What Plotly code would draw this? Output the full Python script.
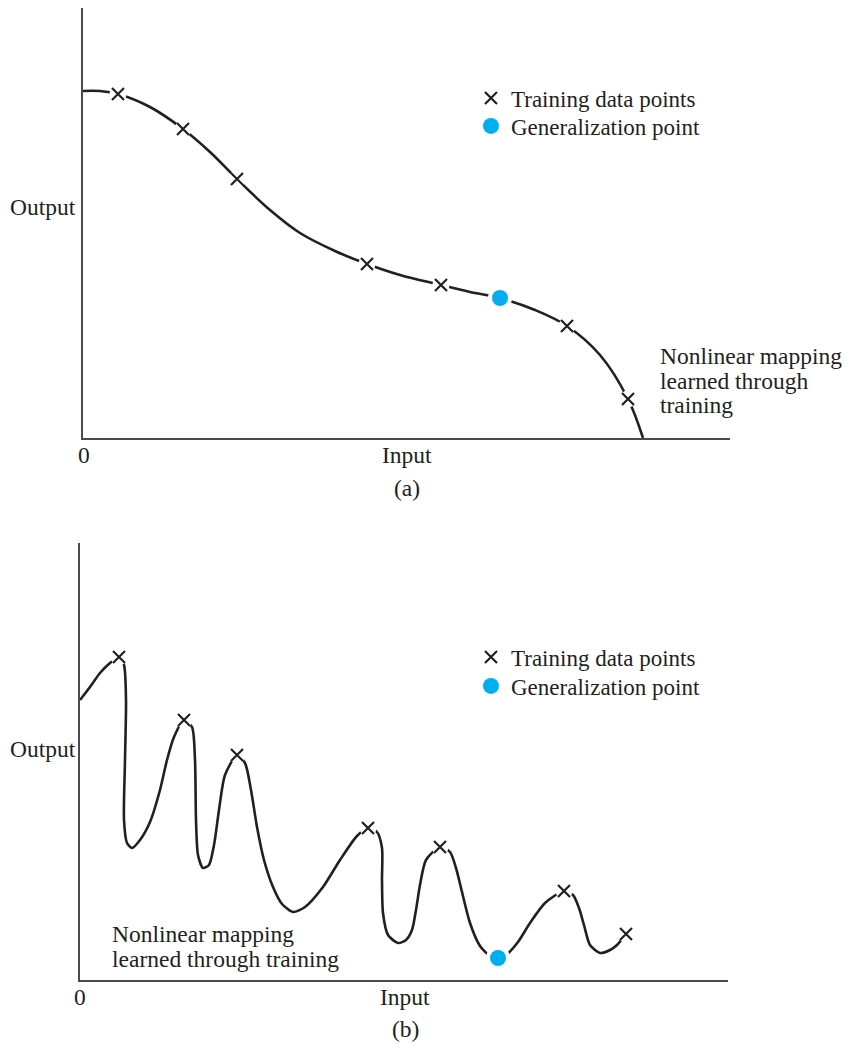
import plotly.graph_objects as go

# The page has an 8px body margin, so the figure is made 8px smaller and all
# layout positions are given in window pixels minus that margin.
WIN_W, WIN_H = 850, 1044
OFF = 8
W, H = WIN_W - OFF, WIN_H - OFF

# ---------------- Data ----------------
# Panel (a): smooth mapping
train_x_a = [35, 100, 154, 284, 358, 484, 545]
train_y_a = [344, 309, 259, 174, 153, 112, 39]
gen_x_a = [417]
gen_y_a = [140]
curve_x_a = [0, 17, 35, 67, 100, 127, 154, 187, 217, 252, 284, 317, 358, 387, 417, 452, 484, 517, 545, 560]
curve_y_a = [347, 347, 344, 331, 309, 286, 259, 228, 205, 187, 174, 163, 153, 146, 140, 128, 112, 83, 39, 0]

# Panel (b): overfitted mapping
train_x_b = [39, 104, 157, 288, 360, 484, 546]
train_y_b = [323, 260, 225, 152, 133, 89, 46]
gen_x_b = [418]
gen_y_b = [22]
curve_x_b = [0, 10, 20, 30, 39, 44, 46, 45, 44, 47, 52, 60, 70, 80, 87, 94, 104, 112, 115, 116, 118,
             123, 129, 134, 139, 145, 157, 165, 171, 177, 184, 193, 202, 213, 225, 243, 260, 277, 288,
             297, 302, 302, 303, 308, 318, 326, 332, 336, 340, 346, 360, 370, 376, 382, 390, 400, 410,
             418, 426, 438, 450, 465, 484, 493, 499, 504, 510, 520, 530, 537, 546]
curve_y_b = [280, 293, 307, 317, 323, 315, 280, 220, 160, 137, 132, 140, 158, 190, 220, 243, 260, 253, 220, 160, 125,
             112, 115, 135, 170, 205, 225, 217, 190, 153, 120, 93, 76, 68, 73, 93, 120, 144, 152,
             148, 132, 100, 67, 45, 37, 40, 50, 70, 95, 120, 133, 128, 112, 88, 57, 34, 24,
             22, 25, 38, 57, 77, 89, 85, 72, 55, 35, 27, 30, 35, 46]

legend_labels = ["Training data points", "Generalization point"]
mapping_text_a = ["Nonlinear mapping", "learned through", "training"]
mapping_text_b = ["Nonlinear mapping", "learned through training"]

# ---------------- Styling ----------------
INK = "#231f20"
BLUE = "#00aeef"
FONT = "Liberation Serif"
LABEL_SIZE = 23.5
LEGEND_SIZE = 23


def px(x):
    return (x - OFF) / W


def py(y):
    return 1 - (y - OFF) / H


fig = go.Figure()


def add_panel(cx, cy, tx, ty, gx, gy, xa, ya, leg_train, leg_gen, smoothing):
    fig.add_trace(go.Scatter(x=cx, y=cy, mode="lines", xaxis=xa, yaxis=ya,
                             line=dict(color=INK, width=2.6, shape="spline", smoothing=smoothing),
                             showlegend=False, hoverinfo="skip"))
    # white halos creating the small gaps around markers
    fig.add_trace(go.Scatter(x=tx, y=ty, mode="markers", xaxis=xa, yaxis=ya,
                             marker=dict(symbol="circle", size=17, color="white"),
                             showlegend=False, hoverinfo="skip"))
    fig.add_trace(go.Scatter(x=gx, y=gy, mode="markers", xaxis=xa, yaxis=ya,
                             marker=dict(symbol="circle", size=24, color="white"),
                             showlegend=False, hoverinfo="skip"))
    fig.add_trace(go.Scatter(x=tx, y=ty, mode="markers", xaxis=xa, yaxis=ya,
                             name=legend_labels[0], legend=leg_train,
                             marker=dict(symbol="x-thin", size=12, color=INK,
                                         line=dict(color=INK, width=2.2))))
    fig.add_trace(go.Scatter(x=gx, y=gy, mode="markers", xaxis=xa, yaxis=ya,
                             name=legend_labels[1], legend=leg_gen,
                             marker=dict(symbol="circle", size=16, color=BLUE)))


add_panel(curve_x_a, curve_y_a, train_x_a, train_y_a, gen_x_a, gen_y_a, "x", "y",
          "legend", "legend2", 1.0)
add_panel(curve_x_b, curve_y_b, train_x_b, train_y_b, gen_x_b, gen_y_b, "x2", "y2",
          "legend3", "legend4", 0.7)

axis_common = dict(showgrid=False, zeroline=False, showticklabels=False, ticks="",
                   showline=True, linecolor="#4a4a4a", linewidth=1.6, mirror=False, fixedrange=True)

legend_common = dict(font=dict(family=FONT, size=LEGEND_SIZE, color=INK), bgcolor="rgba(0,0,0,0)",
                     xanchor="left", yanchor="middle", borderwidth=0, itemclick=False)

annotations = []


def text(s, x, y, xanchor="center", yanchor="middle"):
    annotations.append(dict(text=s, x=px(x), y=py(y), xref="paper", yref="paper",
                            xanchor=xanchor, yanchor=yanchor, showarrow=False,
                            font=dict(family=FONT, size=LABEL_SIZE, color=INK)))


# Panel (a) labels
text("Output", 8, 207, xanchor="left")
text("0", 84, 455)
text("Input", 407, 455)
text("(a)", 407, 488)
for i, s in enumerate(mapping_text_a):
    text(s, 658, 356 + 24.5 * i, xanchor="left")

# Panel (b) labels
text("Output", 8, 749, xanchor="left")
text("0", 80, 997)
text("Input", 405, 997)
text("(b)", 405, 1029)
for i, s in enumerate(mapping_text_b):
    text(s, 110, 934 + 24.5 * i, xanchor="left")

LEG_X = 471
fig.update_layout(
    width=W, height=H,
    margin=dict(l=0, r=0, t=0, b=0),
    paper_bgcolor="white", plot_bgcolor="white",
    xaxis=dict(domain=[px(83), px(730)], range=[0, 647], anchor="y", **axis_common),
    yaxis=dict(domain=[py(438), py(8)], range=[0, 430], anchor="x", **axis_common),
    xaxis2=dict(domain=[px(80), px(728)], range=[0, 648], anchor="y2", **axis_common),
    yaxis2=dict(domain=[py(980), py(543)], range=[0, 437], anchor="x2", **axis_common),
    legend=dict(x=px(LEG_X), y=py(98), **legend_common),
    legend2=dict(x=px(LEG_X), y=py(126), **legend_common),
    legend3=dict(x=px(LEG_X), y=py(657), **legend_common),
    legend4=dict(x=px(LEG_X), y=py(686), **legend_common),
    annotations=annotations,
    showlegend=True,
)

fig.write_html("out.html")
